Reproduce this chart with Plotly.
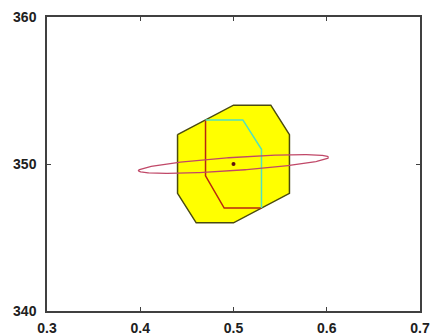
import numpy as np
import plotly.graph_objects as go

# Feasible region (yellow octagon)
region_x = [0.44, 0.50, 0.54, 0.56, 0.56, 0.53, 0.50, 0.46, 0.44, 0.44]
region_y = [352, 354, 354, 352, 348, 347, 346, 346, 348, 352]

# Red boundary (left/bottom of inner set)
red_x = [0.47, 0.47, 0.49, 0.53]
red_y = [353, 349.2, 347, 347]

# Cyan boundary (top/right of inner set)
cyan_x = [0.47, 0.51, 0.53, 0.53]
cyan_y = [353, 353, 351, 347]

# Uncertainty ellipse: centre, x semi-axis, tilt and thickness in y
center_x = [0.5]
center_y = [350]
ell_ax = 0.102
ell_tilt = 0.45
ell_thick = 0.45

x_ticks = [0.3, 0.4, 0.5, 0.6, 0.7]
y_ticks = [340, 350, 360]

t = np.linspace(0, 2 * np.pi, 361)
ell_x = center_x[0] + ell_ax * np.cos(t)
ell_y = center_y[0] + ell_tilt * np.cos(t) + ell_thick * np.sin(t)

fig = go.Figure()
fig.add_trace(go.Scatter(x=region_x, y=region_y, mode="lines", fill="toself",
                         fillcolor="#ffff00", line=dict(color="#4a4a10", width=1.5),
                         hoverinfo="skip"))
fig.add_trace(go.Scatter(x=red_x, y=red_y, mode="lines",
                         line=dict(color="#b82810", width=1.5)))
fig.add_trace(go.Scatter(x=cyan_x, y=cyan_y, mode="lines",
                         line=dict(color="#50e0c0", width=1.5)))
fig.add_trace(go.Scatter(x=ell_x, y=ell_y, mode="lines",
                         line=dict(color="#c04868", width=1.3)))
fig.add_trace(go.Scatter(x=center_x, y=center_y, mode="markers",
                         marker=dict(color="#601010", size=4)))

axis_common = dict(showgrid=False, zeroline=False, showline=True, mirror="ticks",
                   linecolor="#404040", linewidth=1.5, ticks="inside", ticklen=4,
                   tickcolor="#404040", tickwidth=1, automargin=False,
                   tickfont=dict(family="Liberation Sans", size=14, color="#202020",
                                 weight="bold"))

fig.update_layout(
    width=432, height=335,
    margin=dict(l=47, r=12, t=17, b=24),
    paper_bgcolor="white", plot_bgcolor="white",
    showlegend=False,
    xaxis=dict(range=[0.3, 0.7], tickvals=x_ticks,
               ticktext=[f"{v:.1f}" for v in x_ticks], ticklabelstandoff=3,
               **axis_common),
    yaxis=dict(range=[340, 360], tickvals=y_ticks,
               ticktext=[str(v) for v in y_ticks], ticklabelstandoff=6,
               **axis_common),
)

fig.write_html("out.html")
